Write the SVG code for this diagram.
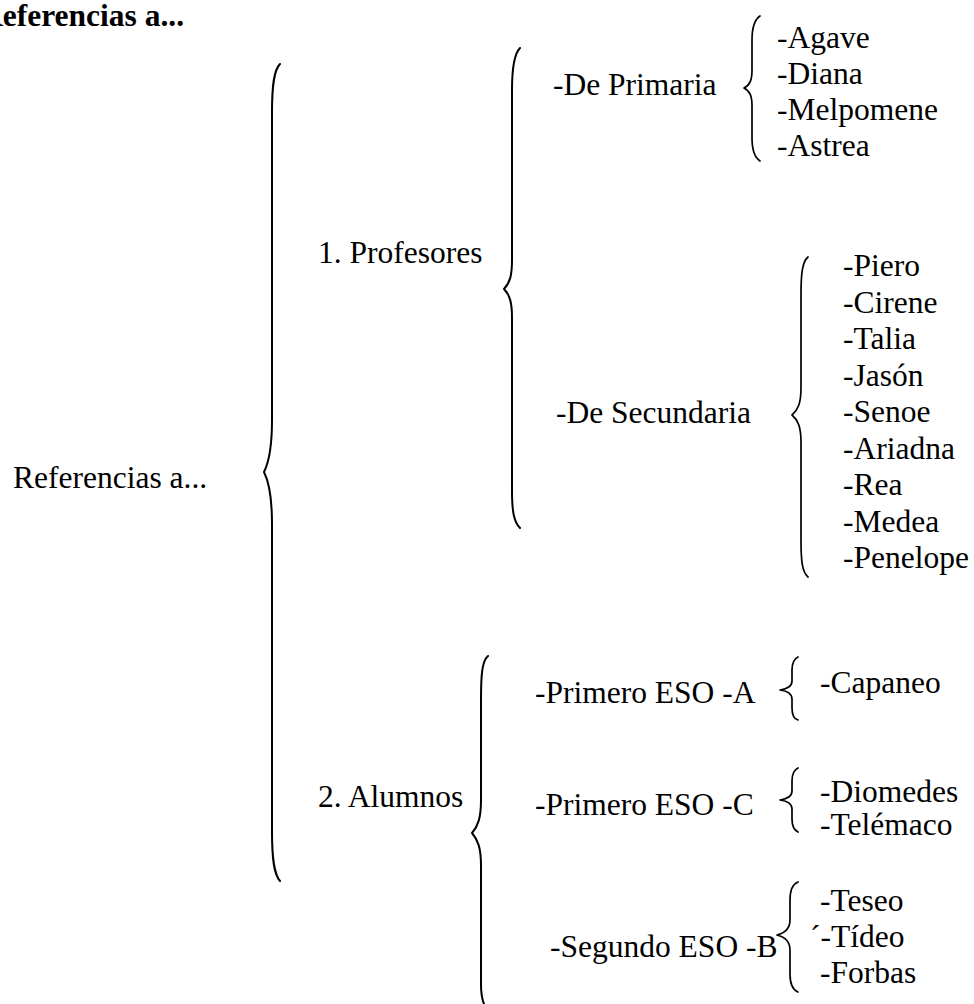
<svg xmlns="http://www.w3.org/2000/svg" width="974" height="1004" viewBox="0 0 974 1004">
<style>
text{font-family:"Liberation Serif","Times New Roman",serif;font-size:31.5px;fill:#000}
.title{font-weight:bold}
.brace{fill:none;stroke:#000;stroke-width:2;stroke-linecap:round;stroke-linejoin:round}
.sb{stroke-width:1.7}
</style>
<rect width="974" height="1004" fill="#fff"/>
<text class="title" x="-20" y="26">Referencias a...</text>
<g id="connectors">
<path class="brace" d="M280,64 C274,70 272,85 272,112 L272,420 C272,448 269,462 264,472 C269,482 272,496 272,524 L272,832 C272,859 274,874 280,881"/>
<path class="brace" d="M520,48 C514,54 512,68 512,90 L512,260 C512,275 510,283 504,289 C510,295 512,303 512,318 L512,490 C512,512 514,522 520,528"/>
<path class="brace sb" d="M760,16 C754,20 752,28 752,40 L752,70 C752,80 750,85 744,88 C750,91 752,96 752,106 L752,138 C752,150 754,157 760,161"/>
<path class="brace sb" d="M808,257 C802,262 801,275 801,295 L801,388 C801,403 798,410 792,415 C798,420 801,427 801,442 L801,540 C801,560 802,572 808,577"/>
<path class="brace" d="M488,656 C482,661 481,675 481,700 L481,800 C481,818 478,826 472,833 C478,840 481,848 481,866 L481,985 C481,998 483,1004 487,1010"/>
<path class="brace sb" d="M798,657 C794,659 792,663 792,670 L792,681 C792,686 787,689 780,690 C787,691 792,694 792,699 L792,708 C792,715 794,719 798,720"/>
<path class="brace sb" d="M798,768 C794,770 792,774 792,781 L792,791 C792,796 787,799 780,800 C787,801 792,804 792,809 L792,819 C792,826 794,830 798,832"/>
<path class="brace sb" d="M798,882 C793,884 790,890 790,900 L790,920 C790,928 785,933 777,935 C785,937 790,942 790,950 L790,974 C790,984 793,990 798,992"/>
</g>
<g id="root"><text x="13" y="488">Referencias a...</text></g>
<g id="profesores"><text x="318" y="263">1. Profesores</text></g>
<g id="alumnos"><text x="318" y="807">2. Alumnos</text></g>
<g id="primaria"><text x="553" y="95">-De Primaria</text></g>
<g id="secundaria"><text x="556" y="423">-De Secundaria</text></g>
<g id="primaria-list">
<text x="777" y="47.5">-Agave</text>
<text x="777" y="83.8">-Diana</text>
<text x="777" y="120.1">-Melpomene</text>
<text x="777" y="156.4">-Astrea</text>
</g>
<g id="secundaria-list">
<text x="843" y="276">-Piero</text>
<text x="843" y="312.5">-Cirene</text>
<text x="843" y="349">-Talia</text>
<text x="843" y="385.5">-Jasón</text>
<text x="843" y="422">-Senoe</text>
<text x="843" y="458.5">-Ariadna</text>
<text x="843" y="495">-Rea</text>
<text x="843" y="531.5">-Medea</text>
<text x="843" y="568">-Penelope</text>
</g>
<g id="eso1a"><text x="535" y="703">-Primero ESO -A</text></g>
<g id="eso1a-list"><text x="820" y="693">-Capaneo</text></g>
<g id="eso1c"><text x="535" y="815">-Primero ESO -C</text></g>
<g id="eso1c-list">
<text x="820" y="802">-Diomedes</text>
<text x="820" y="835">-Telémaco</text>
</g>
<g id="eso2b"><text x="550" y="957">-Segundo ESO -B</text></g>
<g id="eso2b-list">
<text x="820" y="911">-Teseo</text>
<text x="810" y="947">´-Tídeo</text>
<text x="820" y="983">-Forbas</text>
</g>
</svg>
